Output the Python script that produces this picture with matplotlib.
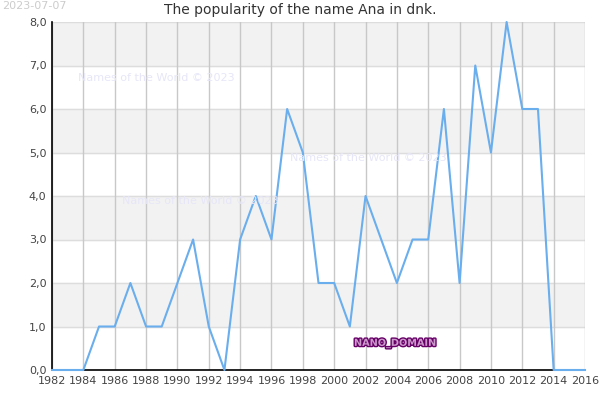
import matplotlib.pyplot as plt
import matplotlib.patheffects as pe
from matplotlib.ticker import FuncFormatter

years = list(range(1982, 2017))
counts = [0, 0, 0, 1, 1, 2, 1, 1, 2, 3, 1, 0, 3, 4, 3, 6, 5, 2, 2, 1,
          4, 3, 2, 3, 3, 6, 2, 7, 5, 8, 6, 6, 0, 0, 0]
xticks = list(range(1982, 2017, 2))
yticks = [0, 1, 2, 3, 4, 5, 6, 7, 8]

fig = plt.figure(figsize=(6, 4), dpi=100)
ax = fig.add_axes([52 / 600, 30 / 400, 533 / 600, 348 / 400])

# alternating bands
for lo in range(1, 8, 2):
    ax.axhspan(lo, lo + 1, color='#f2f2f2', zorder=0)
for y in yticks:
    ax.axhline(y, color='#dddddd', lw=1, zorder=1)
for x in xticks:
    ax.axvline(x, color='#c8c8c8', lw=1, zorder=1)

ax.plot(years, counts, color='#6aaeee', lw=1.5, zorder=5, clip_on=False)

ax.set_xlim(1982, 2016)
ax.set_ylim(0, 8)
ax.set_xticks(xticks)
ax.set_yticks(yticks)
ax.yaxis.set_major_formatter(FuncFormatter(lambda v, p: f"{v:.1f}".replace('.', ',')))
ax.tick_params(axis='both', length=0, labelsize=8, colors='#444444', pad=4)
for s in ['top', 'right']:
    ax.spines[s].set_visible(False)
for s in ['left', 'bottom']:
    ax.spines[s].set_color('black')
    ax.spines[s].set_linewidth(1.2)
    ax.spines[s].set_zorder(2)

fig.text(0.5, 0.975, 'The popularity of the name Ana in dnk.', ha='center', va='center',
         fontsize=10, color='#333333')
fig.text(0.003, 0.984, '2023-07-07', ha='left', va='center', fontsize=8, color='#cccccc')

wm = '#e6e6f8'
fig.text(78 / 600, 1 - 78 / 400, 'Names of the World © 2023', fontsize=8, color=wm, va='center')
fig.text(290 / 600, 1 - 158 / 400, 'Names of the World © 2023', fontsize=8, color=wm, va='center')
fig.text(122 / 600, 1 - 201 / 400, 'Names of the World © 2023', fontsize=8, color=wm, va='center')

fig.text(354 / 600, 1 - 343 / 400, 'NANO_DOMAIN', fontsize=7, color='#cc99cc', va='center',
         fontweight='bold',
         path_effects=[pe.withStroke(linewidth=2, foreground='#660066')])

fig.savefig('out.png', dpi=100)
